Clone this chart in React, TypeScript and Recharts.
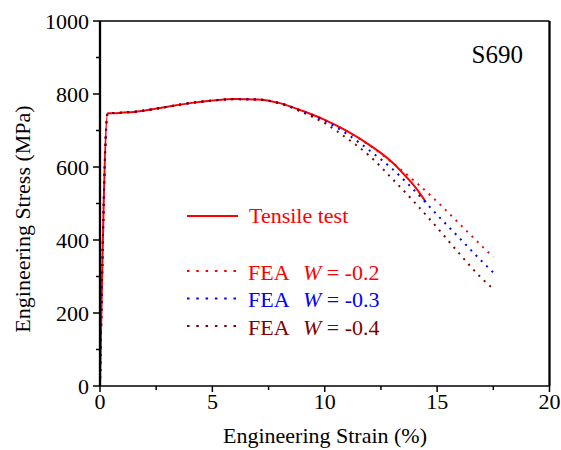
import React from 'react';
import { LineChart, Line, XAxis, YAxis, ReferenceLine, Customized } from 'recharts';

// tensile test (solid red)
const testStrain = [0, 0.34, 0.6, 1, 1.5, 2, 3, 4, 5, 6, 7, 8, 9, 10, 11, 12, 13, 13.7, 14, 14.5];
const testStress = [0, 747, 747, 749, 751, 755, 765, 775, 782, 786, 785, 775, 754, 729, 698, 660, 613, 568, 547, 504];

// FEA curves share the same strain points
const feaStrain = [0, 0.34, 1, 1.5, 2, 3, 4, 5, 6, 7, 8, 9, 10, 11, 12, 13, 14, 15, 16, 17, 17.5];
const feaW02 = [0, 747, 749, 751, 755, 765, 775, 782, 786, 785, 775, 754, 729, 697, 659, 612, 561, 505, 444, 383, 353];
const feaW03 = [0, 747, 749, 751, 755, 765, 775, 782, 786, 785, 775, 752, 726, 690, 645, 595, 535, 469, 405, 341, 311];
const feaW04 = [0, 747, 749, 751, 755, 765, 775, 782, 786, 785, 774, 750, 720, 678, 630, 568, 503, 434, 362, 294, 266];

const xTicks = [0, 2.5, 5, 7.5, 10, 12.5, 15, 17.5, 20];
const yTicks = [0, 100, 200, 300, 400, 500, 600, 700, 800, 900, 1000];

const legendItems = [
  { label: '-0.2', color: '#FF0000' },
  { label: '-0.3', color: '#0000FF' },
  { label: '-0.4', color: '#800000' },
];

const SERIF = 'Liberation Serif';

const zip = (xs: number[], ys: number[]) => xs.map((x, i) => ({ x, y: ys[i] }));

const testData = zip(testStrain, testStress);
const fea02 = zip(feaStrain, feaW02);
const fea03 = zip(feaStrain, feaW03);
const fea04 = zip(feaStrain, feaW04);

const XTick = (props: any) => {
  const { x, y, payload } = props;
  const axisY = y - 8;
  const major = payload.value % 5 === 0;
  return (
    <g>
      <line x1={x} y1={axisY} x2={x} y2={axisY + (major ? 6 : 4)} stroke="#000" strokeWidth={1.5} />
      {major && (
        <text x={x} y={axisY + 23} textAnchor="middle" fontFamily={SERIF} fontSize={22} fill="#000">
          {payload.value}
        </text>
      )}
    </g>
  );
};

const YTick = (props: any) => {
  const { x, y, payload } = props;
  const axisX = x + 11;
  const major = payload.value % 200 === 0;
  return (
    <g>
      <line x1={axisX - (major ? 7 : 4)} y1={y} x2={axisX} y2={y} stroke="#000" strokeWidth={1.5} />
      {major && (
        <text x={axisX - 11} y={y} dy="0.35em" textAnchor="end" fontFamily={SERIF} fontSize={22} fill="#000">
          {payload.value}
        </text>
      )}
    </g>
  );
};

const Overlay = () => (
  <g fontFamily={SERIF}>
    <text x={523} y={63} textAnchor="end" fontFamily={SERIF} fontSize={25} fill="#000">S690</text>
    <text x={325} y={443} textAnchor="middle" fontFamily={SERIF} fontSize={22} fill="#000">Engineering Strain (%)</text>
    <text
      x={0}
      y={0}
      transform="translate(30,219) rotate(-90)"
      textAnchor="middle"
      fontFamily={SERIF}
      fontSize={22}
      fill="#000"
    >
      Engineering Stress (MPa)
    </text>
    <line x1={187} y1={216} x2={238} y2={216} stroke="#FF0000" strokeWidth={2} />
    <text x={249} y={223} fontFamily={SERIF} fontSize={22} fill="#FF0000">Tensile test</text>
    {legendItems.map((it, i) => {
      const cy = 271 + i * 27.5;
      return (
        <g key={it.label}>
          <line x1={187} y1={cy} x2={238} y2={cy} stroke={it.color} strokeWidth={2} strokeDasharray="2.5 6.8" />
          <text x={248} y={cy + 8.5} fontFamily={SERIF} fontSize={22} fill={it.color}>
            FEA
            <tspan x={303} fontStyle="italic">W</tspan>
            <tspan> = {it.label}</tspan>
          </text>
        </g>
      );
    })}
  </g>
);

export default function App() {
  return (
    <div style={{ position: 'absolute', left: 0, top: 0, width: 561, height: 450, background: '#fff', fontFamily: SERIF }}>
      <LineChart width={561} height={450} margin={{ top: 21, right: 11.5, left: 0, bottom: 0 }} style={{ fontFamily: SERIF }}>
        <XAxis
          type="number"
          dataKey="x"
          domain={[0, 20]}
          ticks={xTicks}
          interval={0}
          height={64}
          tickSize={6}
          tickMargin={2}
          tickLine={false}
          tick={<XTick />}
          axisLine={{ stroke: '#000', strokeWidth: 1.5 }}
          allowDataOverflow
        />
        <YAxis
          type="number"
          domain={[0, 1000]}
          ticks={yTicks}
          interval={0}
          width={100}
          tickSize={6}
          tickMargin={5}
          tickLine={false}
          tick={<YTick />}
          axisLine={{ stroke: '#000', strokeWidth: 2.3 }}
          allowDataOverflow
        />
        <ReferenceLine y={1000} stroke="#000" strokeWidth={1.5} ifOverflow="visible" />
        <ReferenceLine x={20} stroke="#000" strokeWidth={2.3} ifOverflow="visible" />
        <Line
          data={testData}
          dataKey="y"
          type="monotone"
          stroke="#FF0000"
          strokeWidth={2}
          dot={false}
          isAnimationActive={false}
        />
        <Line
          data={fea02}
          dataKey="y"
          type="monotone"
          stroke="#FF0000"
          strokeWidth={2}
          strokeDasharray="2 5.5"
          dot={false}
          isAnimationActive={false}
        />
        <Line
          data={fea03}
          dataKey="y"
          type="monotone"
          stroke="#0000FF"
          strokeWidth={2}
          strokeDasharray="2 5.5"
          dot={false}
          isAnimationActive={false}
        />
        <Line
          data={fea04}
          dataKey="y"
          type="monotone"
          stroke="#800000"
          strokeWidth={2}
          strokeDasharray="2 5.5"
          dot={false}
          isAnimationActive={false}
        />
        <Customized component={<Overlay />} />
      </LineChart>
    </div>
  );
}
